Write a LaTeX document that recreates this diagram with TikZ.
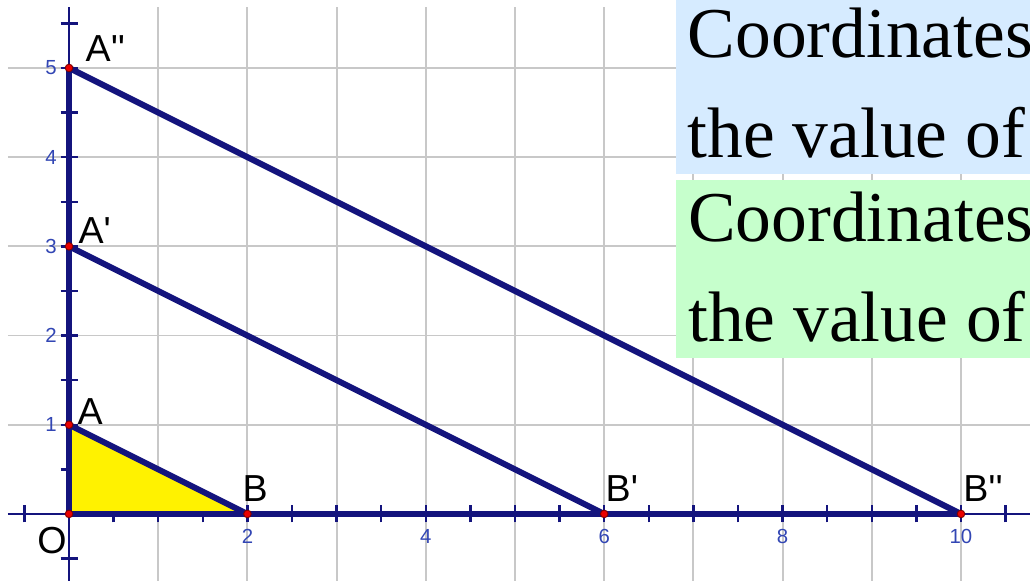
\documentclass[tikz,border=0pt]{standalone}
\usepackage{fontspec}
\setmainfont{Liberation Serif}
\newfontfamily\geofont{Liberation Sans}
\usetikzlibrary{positioning}
\definecolor{AxisNavy}{RGB}{20,20,125}
\definecolor{GridGray}{RGB}{200,200,200}
\definecolor{TickBlue}{RGB}{50,70,180}
\definecolor{BoxBlue}{RGB}{214,235,255}
\definecolor{BoxGreen}{RGB}{198,255,204}
\definecolor{DotRed}{RGB}{235,0,0}
\newcommand{\pr}{\textquotesingle}

\begin{document}
\begin{tikzpicture}[
  seg/.style={draw=AxisNavy, line width=1.9pt, line cap=round},
  axis/.style={draw=AxisNavy, line width=0.75pt},
  dot/.style={circle, fill=DotRed, draw=DotRed!55!black, line width=0.3pt, inner sep=0pt, minimum size=0.085cm},
  plab/.style={font=\geofont\fontsize{12}{12}\selectfont, inner sep=0pt},
  tlab/.style={font=\geofont\fontsize{6.5}{6.5}\selectfont, text=TickBlue, inner sep=0pt},
  note/.style={font=\fontsize{22.8}{27}\selectfont, anchor=base west, inner sep=0pt},
  qbox/.style={inner sep=0pt, anchor=north west, minimum width=4.2cm},
]
\useasboundingbox (-0.774,-0.751) rectangle (10.774,5.762);
\clip (-0.774,-0.751) rectangle (10.774,5.762);
\fill[white] (-0.774,-0.751) rectangle (10.774,5.762);
% grid and axes
\draw[GridGray, line width=0.6pt] (-0.685,-0.751) grid (10.774,5.685);
\draw[axis] (-0.685,0) -- (10.774,0);
\draw[axis] (0,-0.751) -- (0,5.685);
\foreach \t in {-0.5,0.5,1,...,10.5} \draw[axis] (\t,-0.095) -- (\t,0.095);
\foreach \t in {-0.5,0.5,1,...,5.5} \draw[axis] (-0.095,\t) -- (0.095,\t);
\node[tlab, anchor=east] (y1) at (-0.13,1) {1};
\node[tlab, anchor=east] (y2) at (-0.13,2) {2};
\node[tlab, anchor=east] (y3) at (-0.13,3) {3};
\node[tlab, anchor=east] (y4) at (-0.13,4) {4};
\node[tlab, anchor=east] (y5) at (-0.13,5) {5};
\node[tlab, anchor=north] (x2) at (2,-0.17) {2};
\node[tlab, anchor=north] (x4) at (4,-0.17) {4};
\node[tlab, anchor=north] (x6) at (6,-0.17) {6};
\node[tlab, anchor=north] (x8) at (8,-0.17) {8};
\node[tlab, anchor=north] (x10) at (10,-0.17) {10};
% points
\coordinate (O) at (0,0);
\coordinate (A) at (0,1);
\coordinate (B) at (2,0);
\coordinate (Ap) at (0,3);
\coordinate (Bp) at (6,0);
\coordinate (App) at (0,5);
\coordinate (Bpp) at (10,0);
\fill[yellow] (O) -- (A) -- (B) -- cycle;
\draw[seg] (O) -- (App);
\draw[seg] (O) -- (Bpp);
\draw[seg] (A) -- (B);
\draw[seg] (Ap) -- (Bp);
\draw[seg] (App) -- (Bpp);
\node[dot] (dO) at (O) {};
\node[dot] (dA) at (A) {};
\node[dot] (dB) at (B) {};
\node[dot] (dAp) at (Ap) {};
\node[dot] (dBp) at (Bp) {};
\node[dot] (dApp) at (App) {};
\node[dot] (dBpp) at (Bpp) {};
\node[plab, anchor=base east, xshift=-0.02cm, yshift=-0.44cm] (lO) at (O) {O};
\node[plab, anchor=base west, xshift=0.09cm] (lA) at (A) {A};
\node[plab, anchor=base west, xshift=-0.06cm, yshift=0.135cm] (lB) at (B) {B};
\node[plab, anchor=base west, xshift=0.1cm, yshift=0.03cm] (lAp) at (Ap) {A\pr};
\node[plab, anchor=base west, xshift=0.01cm, yshift=0.135cm] (lBp) at (Bp) {B\pr};
\node[plab, anchor=base west, xshift=0.18cm, yshift=0.067cm] (lApp) at (App) {A\pr\pr};
\node[plab, anchor=base west, xshift=0.02cm, yshift=0.135cm] (lBpp) at (Bpp) {B\pr\pr};
% text boxes
\node[qbox, fill=BoxBlue, minimum height=1.977cm] (qblue) at (6.794,5.8) {};
\node[qbox, fill=BoxGreen, minimum height=1.996cm] (qgreen) at (6.794,3.756) {};
\node[note] (qblue1) at (6.928,5.112) {Coordinates};
\node[note] (qblue2) at (6.928,3.991) {the value of};
\node[note] (qgreen1) at (6.935,3.049) {Coordinates};
\node[note] (qgreen2) at (6.935,1.928) {the value of};
\end{tikzpicture}
\end{document}
